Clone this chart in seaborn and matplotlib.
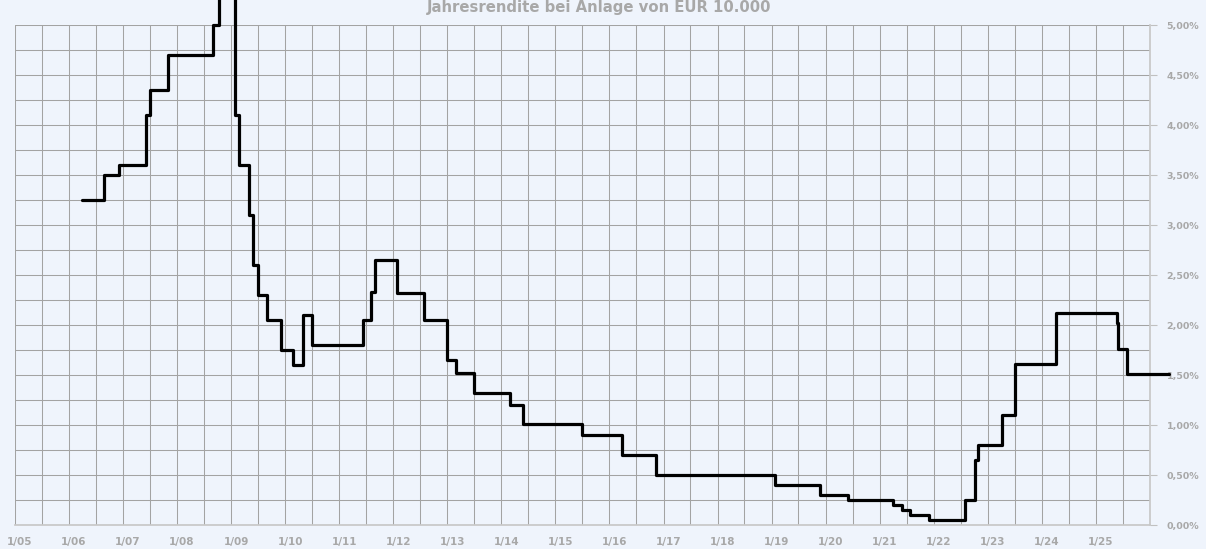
import pandas as pd
import numpy as np
import seaborn as sns
import matplotlib.pyplot as plt
import matplotlib.dates as mdates
import matplotlib.ticker as mticker
from matplotlib.transforms import ScaledTranslation

# Step dates (start of each rate) and yield in %
dates = ['2006-04-01', '2006-08-25', '2006-12-04', '2007-06-04', '2007-07-02',
         '2007-10-31', '2008-09-01', '2008-10-10', '2009-01-27', '2009-02-23',
         '2009-05-02', '2009-05-29', '2009-06-28', '2009-09-01', '2009-12-01',
         '2010-02-23', '2010-05-02', '2010-07-02', '2011-06-11', '2011-08-04',
         '2011-09-01', '2012-01-27', '2012-07-29', '2013-01-01', '2013-03-02',
         '2013-07-02', '2014-03-02', '2014-05-29', '2015-07-02', '2016-03-29',
         '2016-11-14', '2019-01-27', '2019-11-27', '2020-05-29', '2021-03-29',
         '2021-05-29', '2021-07-22', '2021-11-27', '2022-07-29', '2022-10-04',
         '2022-10-24', '2023-04-05', '2023-07-02', '2024-04-05', '2025-05-22',
         '2025-06-02', '2025-07-29', '2026-05-09']
rates = [3.25, 3.50, 3.60, 4.10, 4.35,
         4.70, 5.00, 5.60, 4.10, 3.60,
         3.10, 2.60, 2.30, 2.05, 1.75,
         1.60, 2.10, 1.80, 2.05, 2.33,
         2.65, 2.32, 2.05, 1.65, 1.52,
         1.32, 1.20, 1.01, 0.90, 0.70,
         0.50, 0.40, 0.30, 0.25, 0.20,
         0.15, 0.10, 0.05, 0.25, 0.65,
         0.80, 1.10, 1.61, 2.12, 2.02,
         1.76, 1.51, 1.51]

title = "Jahresrendite bei Anlage von EUR 10.000"

df = pd.DataFrame({'datum': pd.to_datetime(dates), 'rendite': rates})

bg = '#EFF4FC'
grid_col = '#A3A3A3'
text_col = '#A8A8A8'

sns.set_theme(style='white', rc={'axes.facecolor': bg, 'figure.facecolor': bg})
plt.rcParams['font.family'] = ['DejaVu Sans']

fig = plt.figure(figsize=(12.06, 5.49), dpi=100)
ax = fig.add_axes([15 / 1206, 24 / 549, 1135 / 1206, 500 / 549])

sns.lineplot(data=df, x='datum', y='rendite', ax=ax, color='black',
             linewidth=2.3, drawstyle='steps-post', estimator=None,
             clip_on=False, zorder=5)

ax.set_xlim(pd.Timestamp('2005-01-01'), pd.Timestamp('2026-01-01'))
ax.set_ylim(0, 5)

# x axis: yearly labels, half-year grid (no label at the right edge)
ax.xaxis.set_major_locator(mdates.YearLocator())
ax.xaxis.set_minor_locator(mdates.MonthLocator(bymonth=[7]))
ax.xaxis.set_major_formatter(mticker.FuncFormatter(
    lambda v, pos: '' if mdates.num2date(v).year > 2025
    else f"1/{mdates.num2date(v).year % 100:02d}"))

# y axis on the right, 0.5 % labels, 0.25 % grid
ax.yaxis.tick_right()
ax.yaxis.set_major_locator(mticker.MultipleLocator(0.5))
ax.yaxis.set_minor_locator(mticker.MultipleLocator(0.25))
ax.yaxis.set_major_formatter(mticker.FuncFormatter(
    lambda v, pos: f"{v:.2f}".replace('.', ',') + '%'))

ax.grid(True, which='both', color=grid_col, linewidth=0.75)
ax.set_axisbelow(True)

ax.tick_params(axis='x', which='major', length=4, width=0.8, color='#C0C0C0',
               labelsize=7.5, labelcolor=text_col, pad=5)
ax.tick_params(axis='y', which='major', length=5, width=0.8, color='#C0C0C0',
               labelsize=6.8, labelcolor=text_col, pad=7)
ax.tick_params(which='minor', length=0)
for lbl in ax.get_xticklabels() + ax.get_yticklabels():
    lbl.set_fontweight('bold')
offset = ScaledTranslation(5 / 100, 0, fig.dpi_scale_trans)
for lbl in ax.get_xticklabels():
    lbl.set_transform(lbl.get_transform() + offset)

for side in ['top', 'left']:
    ax.spines[side].set_visible(False)
ax.spines['right'].set_color('#C8C8C8')
ax.spines['bottom'].set_color('#C8C8C8')
ax.set_xlabel('')
ax.set_ylabel('')

fig.text(599 / 1206, 1 - 12 / 549, title, ha='center', va='baseline',
         fontsize=10.7, fontweight='bold', color=text_col)

fig.savefig('out.png', dpi=100, facecolor=bg)
